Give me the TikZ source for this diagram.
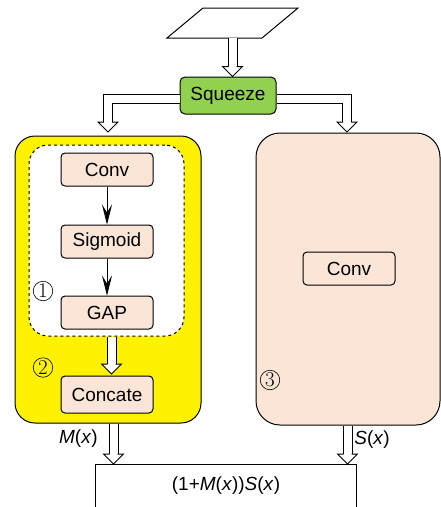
\documentclass[tikz,border=0pt]{standalone}
\usepackage{fontspec}
\setsansfont{Liberation Sans}
\usepackage{tikz}
\usetikzlibrary{arrows.meta}

\definecolor{peach}{RGB}{251,229,214}
\definecolor{leaf}{RGB}{146,208,80}

\tikzset{
  block/.style = {draw, fill = peach, rounded corners = 4pt, minimum width = 92pt, minimum height = 33pt, inner sep = 0pt, line width = 1pt},
  hollow/.style = {double = white, double distance = 8pt, line width = 1pt, line join = miter},
  dhead/.pic = {\filldraw[fill = white, line width = 1pt, line join = miter] (-4,-10) -- (-10,-10) -- (0,0) -- (10,-10) -- (4,-10);},
  stepnum/.style = {circle, draw, line width = 0.6pt, inner sep = 0pt, minimum size = 19.5pt, font = \rmfamily\fontsize{21}{21}\selectfont},
}

\begin{document}
\begin{tikzpicture}[x = 1pt, y = -1pt, font = \sffamily\fontsize{19}{22}\selectfont]
  \useasboundingbox (0,0) rectangle (441,507);
  \clip (0,0) rectangle (441,507);

  % input
  \draw[line width = 1pt] (203,8) -- (298,8) -- (262,38) -- (167,38) -- cycle;
  \coordinate (inp) at (232.5,38);

  \node[draw, fill = leaf, rounded corners = 5pt, minimum width = 96pt, minimum height = 37pt, inner sep = 0pt, line width = 1pt] (sq) at (228,95.5) {Squeeze};

  % left branch
  \node[draw, fill = yellow, rounded corners = 20pt, minimum width = 186pt, minimum height = 287pt, line width = 1pt] (yel) at (108,279.5) {};
  \node[draw, dashed, fill = white, rounded corners = 19pt, minimum width = 155pt, minimum height = 191pt, line width = 1pt] (dsh) at (106.5,240.5) {};
  \node[block] (conv1) at (107,169.5) {Conv};
  \node[block] (sig) at (107,241.5) {Sigmoid};
  \node[block] (gap) at (107,312.5) {GAP};
  \node[block, minimum height = 37pt] (cat) at (107,394.5) {Concate};
  \node[stepnum] (n1) at (43,291) {1};
  \node[stepnum] (n2) at (43,367.5) {2};

  % right branch
  \node[draw, fill = peach, rounded corners = 24pt, minimum width = 184pt, minimum height = 292pt, line width = 1pt] (rbox) at (348,279) {};
  \node[block] (conv2) at (349,268.5) {Conv};
  \node[stepnum] (n3) at (270,380) {3};

  % output
  \node[draw, minimum width = 261pt, minimum height = 80pt, line width = 1pt] (out) at (226,504) {};
  \node (res) at (226,486) {(1+\textit{M}(\textit{x}))\textit{S}(\textit{x})};

  \coordinate (lbar) at (108,99);
  \coordinate (rbar) at (347,99);
  \coordinate (ltip) at (108,132);
  \coordinate (rtip) at (347,132);
  \coordinate (ctip) at (111.5,374);
  \coordinate (mtip) at (113.5,464);
  \coordinate (stip) at (347.5,464);

  \draw[line width = 0.9pt, -{Stealth[length = 20pt, width = 10pt, inset = 8pt]}] (conv1) -- (sig);
  \draw[line width = 0.9pt, -{Stealth[length = 20pt, width = 10pt, inset = 8pt]}] (sig) -- (gap);

  \draw[hollow] (inp) -- ([yshift = 10pt]inp |- sq.north);
  \pic at (inp |- sq.north) {dhead};
  \draw[hollow] (sq.west |- lbar) -- (lbar) -- ([yshift = 10pt]ltip);
  \pic at (ltip) {dhead};
  \draw[hollow] (sq.east |- rbar) -- (rbar) -- ([yshift = 10pt]rtip);
  \pic at (rtip) {dhead};
  \draw[hollow] (dsh.south -| ctip) -- ([yshift = 10pt]ctip);
  \pic at (ctip) {dhead};
  \draw[hollow] (yel.south -| mtip) -- ([yshift = 10pt]mtip) node[midway, left = 12pt] {\textit{M}(\textit{x})};
  \pic at (mtip) {dhead};
  \draw[hollow] (rbox.south -| stip) -- ([yshift = 10pt]stip) node[midway, right = 3pt] {\textit{S}(\textit{x})};
  \pic at (stip) {dhead};

\end{tikzpicture}
\end{document}
